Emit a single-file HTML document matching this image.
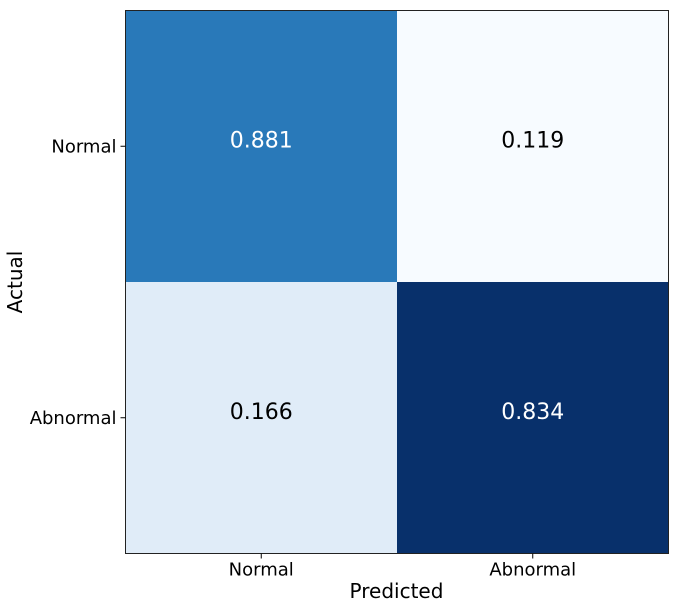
<!DOCTYPE html>
<html><head><meta charset="utf-8"><style>
html,body{margin:0;padding:0;background:#fff;}
svg{display:block;font-family:"DejaVu Sans","Liberation Sans",sans-serif;}
</style></head><body>
<svg id="chart" width="679" height="609" viewBox="0 0 679 609" xmlns="http://www.w3.org/2000/svg">
<g id="cells"></g>
<rect x="125.5" y="10.5" width="543" height="543" fill="none" stroke="#222" stroke-width="1"/>
<g id="axes"></g>
<text x="396.5" y="598" font-size="20" text-anchor="middle" fill="#000">Predicted</text>
<text transform="translate(22,282) rotate(-90)" font-size="20" text-anchor="middle" fill="#000">Actual</text>
</svg>
<script>
const categories = ["Normal", "Abnormal"];
const rowValues0 = [0.881, 0.119];
const rowValues1 = [0.166, 0.834];
const cellColors0 = ["#2979b9", "#f7fbff"];
const cellColors1 = ["#e0ecf8", "#08306b"];
const values = [rowValues0, rowValues1];
const colors = [cellColors0, cellColors1];
const NS = "http://www.w3.org/2000/svg";
const plotLeft = 125.5, plotTop = 10.5, plotSize = 543;
const n = categories.length, cw = plotSize / n;
const xPos = i => plotLeft + i * cw;
const yPos = i => plotTop + i * cw;
const cells = document.getElementById('cells');
const axes = document.getElementById('axes');
for (let r = 0; r < n; r++) {
  for (let c = 0; c < n; c++) {
    const rect = document.createElementNS(NS, 'rect');
    
    
    rect.setAttribute('x', xPos(c)); rect.setAttribute('y', yPos(r));
    rect.setAttribute('width', cw); rect.setAttribute('height', cw);
    rect.setAttribute('fill', colors[r][c]);
    cells.appendChild(rect);
    const t = document.createElementNS(NS, 'text');
    
    
    t.setAttribute('x', xPos(c) + cw / 2);
    t.setAttribute('y', yPos(r) + cw / 2 + 1);
    t.setAttribute('font-size', '22');
    t.setAttribute('text-anchor', 'middle');
    t.setAttribute('fill', values[r][c] > 0.5 ? '#fff' : '#000');
    t.textContent = values[r][c].toFixed(3);
    cells.appendChild(t);
  }
}
categories.forEach((cat, i) => {
  const cx = xPos(i) + cw / 2, cy = yPos(i) + cw / 2;
  const tx = document.createElementNS(NS, 'line');
  
  
  tx.setAttribute('x1', cx); tx.setAttribute('x2', cx);
  tx.setAttribute('y1', plotTop + plotSize); tx.setAttribute('y2', plotTop + plotSize + 5);
  tx.setAttribute('stroke', '#000');
  axes.appendChild(tx);
  const lx = document.createElementNS(NS, 'text');
  
  
  lx.setAttribute('x', cx); lx.setAttribute('y', plotTop + plotSize + 22);
  lx.setAttribute('font-size', '18'); lx.setAttribute('text-anchor', 'middle');
  lx.textContent = cat;
  axes.appendChild(lx);
  const ty = document.createElementNS(NS, 'line');
  
  
  ty.setAttribute('x1', plotLeft - 5); ty.setAttribute('x2', plotLeft);
  ty.setAttribute('y1', cy); ty.setAttribute('y2', cy);
  ty.setAttribute('stroke', '#000');
  axes.appendChild(ty);
  const ly = document.createElementNS(NS, 'text');
  
  
  ly.setAttribute('x', plotLeft - 9); ly.setAttribute('y', cy + 6);
  ly.setAttribute('font-size', '18'); ly.setAttribute('text-anchor', 'end');
  ly.textContent = cat;
  axes.appendChild(ly);
});
</script>
</body></html>
